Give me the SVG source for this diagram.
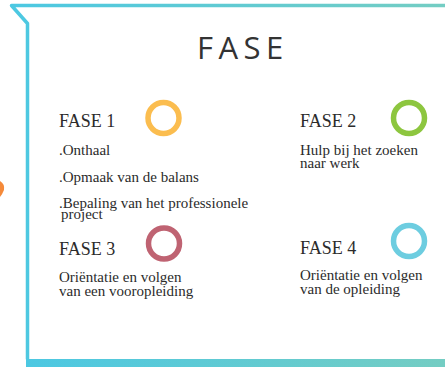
<svg xmlns="http://www.w3.org/2000/svg" width="445" height="369" viewBox="0 0 445 369">
<defs>
<linearGradient id="gTop" x1="0" y1="0" x2="1" y2="0"><stop offset="0" stop-color="#4cc8e2"/><stop offset="1" stop-color="#74cdc3"/></linearGradient>
<linearGradient id="gBot" x1="0" y1="0" x2="1" y2="0"><stop offset="0" stop-color="#4cc8e2"/><stop offset="1" stop-color="#74cdc3"/></linearGradient>
<style>
.h{font-family:"Liberation Serif",serif;font-size:18px;fill:#2b2b2b}
.t{font-family:"Liberation Serif",serif;font-size:15px;fill:#2b2b2b}
.ring{fill:none;stroke-width:5.5}
</style>
</defs>
<g id="frame">
<path d="M445 5.5 H11.5 L27.5 23.5 V359" fill="none" stroke="url(#gTop)" stroke-width="3.5" stroke-linejoin="round" stroke-linecap="round"/>
<rect x="26" y="359" width="419" height="8" fill="url(#gBot)"/>
<path d="M0 181 Q5 184 4 190 Q2 195 0 197 Z" fill="#f58a3a"/>
</g>
<text id="title" x="197" y="59" font-family="'Open Sans',sans-serif" font-size="31" letter-spacing="5.5" fill="#333">FASE</text>
<g id="fase1">
<text class="h" x="59" y="127">FASE 1</text>
<circle class="ring" cx="163.5" cy="118" r="15.5" stroke="#fbbd4f"/>
<text class="t" x="59" y="155">.Onthaal</text>
<text class="t" x="59" y="182">.Opmaak van de balans</text>
<text class="t" x="59" y="208">.Bepaling van het professionele</text>
<text class="t" x="61" y="219">project</text>
</g>
<g id="fase2">
<text class="h" x="300" y="127">FASE 2</text>
<circle class="ring" cx="409" cy="118" r="15.5" stroke="#8dc63f"/>
<text class="t" x="300" y="155">Hulp bij het zoeken</text>
<text class="t" x="300" y="168">naar werk</text>
</g>
<g id="fase3">
<text class="h" x="59" y="255">FASE 3</text>
<circle class="ring" cx="164" cy="243.5" r="15.5" stroke="#bf6372"/>
<text class="t" x="59" y="282">Oriëntatie en volgen</text>
<text class="t" x="59" y="296">van een vooropleiding</text>
</g>
<g id="fase4">
<text class="h" x="300" y="254">FASE 4</text>
<circle class="ring" cx="409" cy="241" r="15.5" stroke="#6dcde0"/>
<text class="t" x="300" y="280">Oriëntatie en volgen</text>
<text class="t" x="300" y="294">van de opleiding</text>
</g>
<g id="connectors"/>
</svg>
